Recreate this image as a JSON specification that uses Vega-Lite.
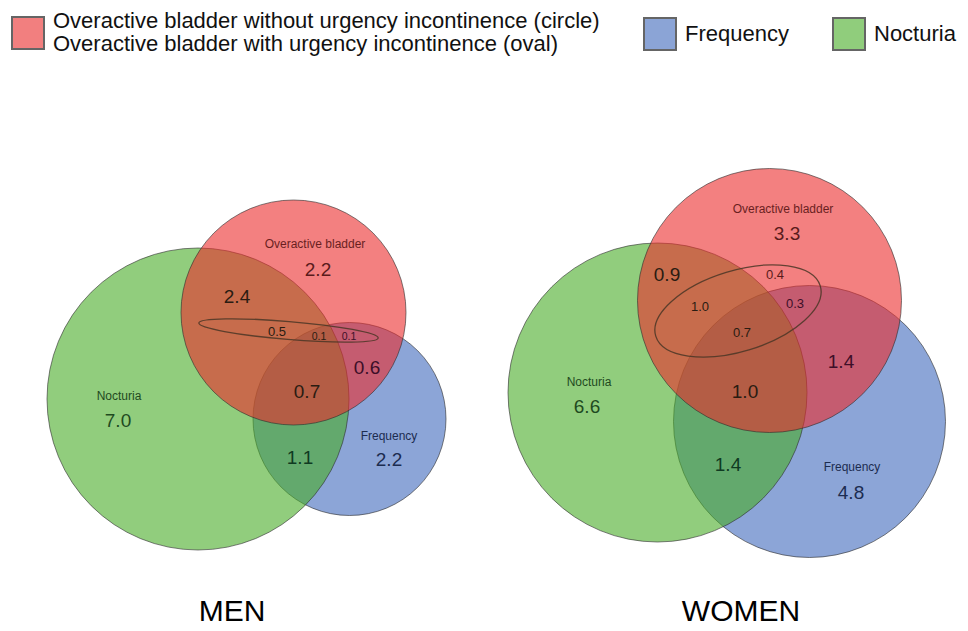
{
  "$schema": "https://vega.github.io/schema/vega-lite/v6.json",
  "width": 968,
  "height": 631,
  "autosize": {"type": "fit", "contains": "padding"},
  "padding": 0,
  "background": "white",
  "config": {"view": {"stroke": null}, "font": "Liberation Sans"},
  "datasets": {
    "circles": [
      {"panel": "MEN", "set": "Frequency", "x": 349.5, "y": 419, "r": 96.5},
      {"panel": "MEN", "set": "Nocturia", "x": 198, "y": 399, "r": 151},
      {"panel": "MEN", "set": "Overactive bladder", "x": 293.5, "y": 312.5, "r": 112.5},
      {"panel": "WOMEN", "set": "Frequency", "x": 809.5, "y": 421.5, "r": 136},
      {"panel": "WOMEN", "set": "Nocturia", "x": 657.5, "y": 392.5, "r": 149.5},
      {"panel": "WOMEN", "set": "Overactive bladder", "x": 769.5, "y": 300.5, "r": 132}
    ],
    "ovals": [
      {"panel": "MEN", "x": 288.5, "y": 330.5, "r": 90, "tilt": 4.8},
      {"panel": "WOMEN", "x": 738, "y": 311, "r": 86, "tilt": 343}
    ],
    "labels": [
      {"text": "Overactive bladder", "x": 315, "y": 244, "kind": "name", "region": "OAB"},
      {"text": "2.2", "x": 318, "y": 270, "kind": "value", "region": "OAB"},
      {"text": "2.4", "x": 237, "y": 297, "kind": "value", "region": "OAB+N"},
      {"text": "0.5", "x": 277, "y": 332, "kind": "oval", "region": "OAB+N"},
      {"text": "0.1", "x": 319, "y": 337, "kind": "tiny", "region": "all"},
      {"text": "0.1", "x": 349, "y": 337, "kind": "tiny", "region": "OAB+F"},
      {"text": "0.6", "x": 367, "y": 368, "kind": "value", "region": "OAB+F"},
      {"text": "0.7", "x": 307, "y": 392, "kind": "value", "region": "all"},
      {"text": "Nocturia", "x": 119, "y": 396, "kind": "name", "region": "N"},
      {"text": "7.0", "x": 118, "y": 421, "kind": "value", "region": "N"},
      {"text": "Frequency", "x": 389, "y": 436, "kind": "name", "region": "F"},
      {"text": "2.2", "x": 389, "y": 460, "kind": "value", "region": "F"},
      {"text": "1.1", "x": 300, "y": 458, "kind": "value", "region": "N+F"},
      {"text": "MEN", "x": 232, "y": 612, "kind": "title", "region": "panel"},
      {"text": "Overactive bladder", "x": 783, "y": 209, "kind": "name", "region": "OAB"},
      {"text": "3.3", "x": 787, "y": 234, "kind": "value", "region": "OAB"},
      {"text": "0.9", "x": 667, "y": 275, "kind": "value", "region": "OAB+N"},
      {"text": "0.4", "x": 775, "y": 275, "kind": "oval", "region": "OAB"},
      {"text": "1.0", "x": 700, "y": 307, "kind": "oval", "region": "OAB+N"},
      {"text": "0.3", "x": 795, "y": 304, "kind": "oval", "region": "OAB+F"},
      {"text": "0.7", "x": 742, "y": 333, "kind": "oval", "region": "all"},
      {"text": "1.4", "x": 841, "y": 362, "kind": "value", "region": "OAB+F"},
      {"text": "1.0", "x": 745, "y": 392, "kind": "value", "region": "all"},
      {"text": "Nocturia", "x": 589, "y": 382, "kind": "name", "region": "N"},
      {"text": "6.6", "x": 587, "y": 407, "kind": "value", "region": "N"},
      {"text": "1.4", "x": 728, "y": 465, "kind": "value", "region": "N+F"},
      {"text": "Frequency", "x": 852, "y": 467, "kind": "name", "region": "F"},
      {"text": "4.8", "x": 851, "y": 493, "kind": "value", "region": "F"},
      {"text": "WOMEN", "x": 741, "y": 612, "kind": "title", "region": "panel"}
    ]
  },
  "layer": [
    {
      "data": {"name": "circles"},
      "mark": {"type": "point", "shape": "circle", "filled": true, "opacity": 1, "fillOpacity": 0.6, "stroke": "#2b2b2b", "strokeWidth": 1, "strokeOpacity": 0.6},
      "encoding": {
        "x": {"field": "x", "type": "quantitative", "scale": {"domain": [0, 968], "nice": false, "zero": false}, "axis": null},
        "y": {"field": "y", "type": "quantitative", "scale": {"domain": [0, 631], "nice": false, "zero": false, "reverse": true}, "axis": null},
        "size": {"field": "r", "type": "quantitative", "scale": {"type": "pow", "exponent": 2, "domain": [0, 200], "range": [0, 160000]}, "legend": null},
        "color": {
          "field": "set", "type": "nominal",
          "scale": {"domain": ["Overactive bladder", "Frequency", "Nocturia"], "range": ["#EB2B2B", "#3F69BC", "#48AC26"]},
          "legend": {
            "title": null, "orient": "none", "legendX": 11, "legendY": 16, "direction": "horizontal",
            "symbolType": "square", "symbolSize": 1024, "symbolStrokeColor": "#000", "symbolStrokeWidth": 2, "symbolOpacity": 0.6,
            "labelFont": "Liberation Sans", "labelFontSize": 22, "labelColor": "#111", "labelLimit": 1000,
            "labelOffset": 8, "columnPadding": 40, "padding": 0,
            "labelExpr": "datum.label == 'Overactive bladder' ? ['Overactive bladder without urgency incontinence (circle)', 'Overactive bladder with urgency incontinence (oval)'] : datum.label",
            "encode": {
              "symbols": {"update": {"stroke": {"value": "#000"}, "strokeWidth": {"value": 2}, "opacity": {"value": 0.6}}},
              "labels": {"update": {"lineHeight": {"value": 23}, "dy": {"signal": "datum.value == 'Overactive bladder' ? -12 : 0"}}}
            }
          }
        }
      }
    },
    {
      "data": {"name": "ovals"},
      "mark": {"type": "point", "filled": false, "opacity": 1, "color": "#4a3626", "strokeWidth": 1.3, "strokeOpacity": 0.85},
      "encoding": {
        "x": {"field": "x", "type": "quantitative", "scale": {"domain": [0, 968], "nice": false, "zero": false}, "axis": null},
        "y": {"field": "y", "type": "quantitative", "scale": {"domain": [0, 631], "nice": false, "zero": false, "reverse": true}, "axis": null},
        "size": {"field": "r", "type": "quantitative", "scale": {"type": "pow", "exponent": 2, "domain": [0, 200], "range": [0, 160000]}, "legend": null},
        "shape": {"field": "panel", "type": "nominal", "scale": {"domain": ["MEN", "WOMEN"], "range": [
          "M-1,0C-1,-0.0552,-0.5523,-0.1,0,-0.1C0.5523,-0.1,1,-0.0552,1,0C1,0.0552,0.5523,0.1,0,0.1C-0.5523,0.1,-1,0.0552,-1,0Z",
          "M-1,0C-1,-0.26,-0.5523,-0.47,0,-0.47C0.5523,-0.47,1,-0.26,1,0C1,0.26,0.5523,0.47,0,0.47C-0.5523,0.47,-1,0.26,-1,0Z"
        ]}, "legend": null},
        "angle": {"field": "tilt", "type": "quantitative", "scale": {"domain": [0, 360], "range": [0, 360]}}
      }
    },
    {
      "data": {"name": "labels"},
      "transform": [{"filter": "datum.kind == 'value'"}],
      "mark": {"type": "text", "font": "Liberation Sans", "fontSize": 19, "align": "center", "baseline": "middle"},
      "encoding": {
        "x": {"field": "x", "type": "quantitative", "axis": null},
        "y": {"field": "y", "type": "quantitative", "axis": null},
        "text": {"field": "text"},
        "color": {"condition": [
          {"test": "datum.region == 'OAB'", "value": "#5a1b1b"},
          {"test": "datum.region == 'N'", "value": "#1f4a1f"},
          {"test": "datum.region == 'F'", "value": "#1c2c50"},
          {"test": "datum.region == 'OAB+F'", "value": "#3d0f28"},
          {"test": "datum.region == 'N+F'", "value": "#0f3a22"}
        ], "value": "#2a1c12"}
      }
    },
    {
      "data": {"name": "labels"},
      "transform": [{"filter": "datum.kind == 'name'"}],
      "mark": {"type": "text", "font": "Liberation Sans", "fontSize": 12, "align": "center", "baseline": "middle"},
      "encoding": {
        "x": {"field": "x", "type": "quantitative", "axis": null},
        "y": {"field": "y", "type": "quantitative", "axis": null},
        "text": {"field": "text"},
        "color": {"condition": [
          {"test": "datum.region == 'OAB'", "value": "#6a1f1f"},
          {"test": "datum.region == 'N'", "value": "#1f4a1f"},
          {"test": "datum.region == 'F'", "value": "#1c2c50"}
        ], "value": "#2a1c12"}
      }
    },
    {
      "data": {"name": "labels"},
      "transform": [{"filter": "datum.kind == 'oval' || datum.kind == 'tiny'"}],
      "mark": {"type": "text", "font": "Liberation Sans", "align": "center", "baseline": "middle"},
      "encoding": {
        "x": {"field": "x", "type": "quantitative", "axis": null},
        "y": {"field": "y", "type": "quantitative", "axis": null},
        "text": {"field": "text"},
        "size": {"condition": {"test": "datum.kind == 'tiny'", "value": 10.5}, "value": 13},
        "color": {"condition": [
          {"test": "datum.region == 'OAB'", "value": "#5a1b1b"},
          {"test": "datum.region == 'OAB+F'", "value": "#3d0f28"}
        ], "value": "#2a1c12"}
      }
    },
    {
      "data": {"name": "labels"},
      "transform": [{"filter": "datum.kind == 'title'"}],
      "mark": {"type": "text", "font": "Liberation Sans", "fontSize": 30, "align": "center", "baseline": "middle", "color": "#000"},
      "encoding": {
        "x": {"field": "x", "type": "quantitative", "axis": null},
        "y": {"field": "y", "type": "quantitative", "axis": null},
        "text": {"field": "text"}
      }
    }
  ]
}
